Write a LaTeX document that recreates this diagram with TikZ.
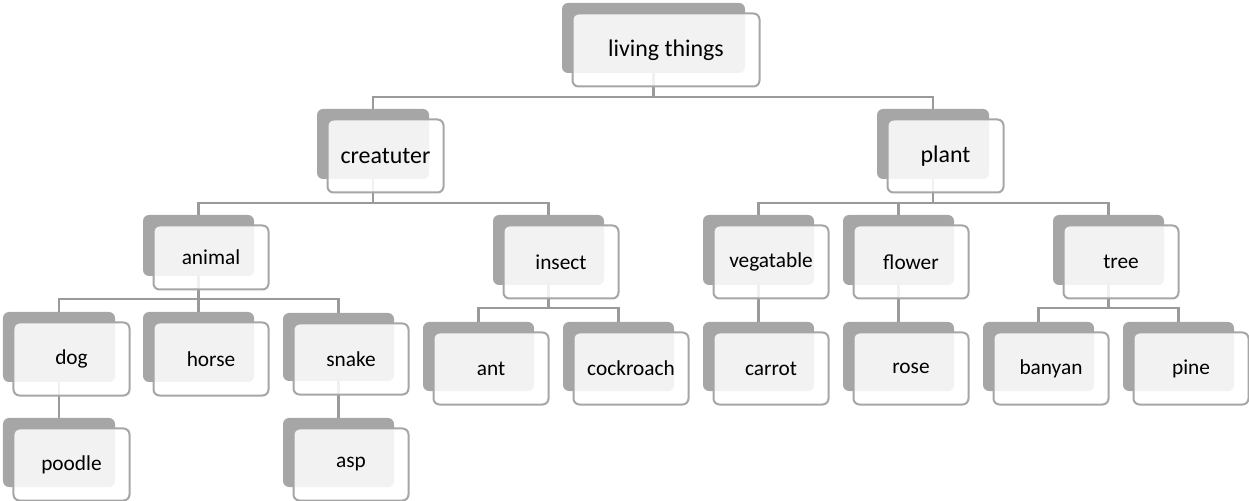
\documentclass[tikz,border=0pt]{standalone}
\usepackage{fontspec}
\setmainfont{Carlito}
\definecolor{cardgray}{HTML}{A6A6A6}
\definecolor{linkgray}{HTML}{9A9A9A}
\tikzset{
  backcard/.style={fill=cardgray, rounded corners=6bp, inner sep=0pt},
  frontcard/.style={fill=white, fill opacity=0.86, text opacity=1, draw=cardgray,
    line width=2bp, rounded corners=6bp, inner sep=0pt, text=black},
  bigtext/.style={font=\fontsize{24}{28}\selectfont},
  smalltext/.style={font=\fontsize{21.4}{25}\selectfont},
  link/.style={draw=linkgray, line width=2.2bp},
}
% \cardback{name}{center}{width}{height}
\newcommand\cardback[4]{\node[backcard, minimum width=#3bp, minimum height=#4bp] (#1-b) at (#2) {};}
% \cardfront{name}{center of back}{width}{height}{style}{text}
\newcommand\cardfront[6]{%
  \node[frontcard, #5, minimum width=#3bp+4bp, minimum height=#4bp+3bp]
    (#1) at ([shift={(12.5,12)}]#2) {#6};}
\begin{document}
\begin{tikzpicture}[x=1bp,y=-1bp]
\useasboundingbox (0,0) rectangle (1249,501);
% back cards
\cardback{lt}{653.5,38}{183}{70}
\cardback{cr}{373,144}{112}{70}
\cardback{pl}{933,144}{112}{70}
\cardback{an}{198.5,245.5}{111}{61}
\cardback{in}{548.5,250}{111}{70}
\cardback{ve}{758.5,250}{111}{70}
\cardback{fl}{898.5,250}{111}{70}
\cardback{tr}{1108.5,250}{111}{70}
\cardback{dg}{59,347}{112}{70}
\cardback{ho}{198.5,347}{111}{70}
\cardback{sn}{338.5,347}{111}{68}
\cardback{at}{478.5,356.5}{111}{69}
\cardback{co}{618.5,356.5}{111}{69}
\cardback{ca}{758.5,356.5}{111}{69}
\cardback{ro}{898.5,356.5}{111}{69}
\cardback{ba}{1038.5,356.5}{111}{69}
\cardback{pi}{1178.5,356.5}{111}{69}
\cardback{po}{59,452.5}{112}{69}
\cardback{as}{338.5,452.5}{111}{69}
% connectors
\draw[link] (lt-b.south) |- (653.5,97) -| (cr-b.north);
\draw[link] (lt-b.south) |- (653.5,97) -| (pl-b.north);
\draw[link] (cr-b.south) |- (373,203) -| (an-b.north);
\draw[link] (cr-b.south) |- (373,203) -| (in-b.north);
\draw[link] (pl-b.south) |- (933,203) -| (ve-b.north);
\draw[link] (pl-b.south) |- (933,203) -| (fl-b.north);
\draw[link] (pl-b.south) |- (933,203) -| (tr-b.north);
\draw[link] (an-b.south) |- (198.5,299) -| (dg-b.north);
\draw[link] (an-b.south) |- (198.5,299) -| (ho-b.north);
\draw[link] (an-b.south) |- (198.5,299) -| (sn-b.north);
\draw[link] (in-b.south) |- (548.5,308) -| (at-b.north);
\draw[link] (in-b.south) |- (548.5,308) -| (co-b.north);
\draw[link] (tr-b.south) |- (1108.5,308) -| (ba-b.north);
\draw[link] (tr-b.south) |- (1108.5,308) -| (pi-b.north);
\draw[link] (ve-b.south) -- (ca-b.north);
\draw[link] (fl-b.south) -- (ro-b.north);
\draw[link] (dg-b.south) -- (po-b.north);
\draw[link] (sn-b.south) -- (as-b.north);
% front cards
\cardfront{lt}{653.5,38}{183}{70}{bigtext}{living things}
\cardfront{cr}{373,144}{112}{70}{bigtext}{creatuter}
\cardfront{pl}{933,144}{112}{70}{bigtext}{plant}
\cardfront{an}{198.5,245.5}{111}{61}{smalltext}{animal}
\cardfront{in}{548.5,250}{111}{70}{smalltext}{insect}
\cardfront{ve}{758.5,250}{111}{70}{smalltext}{vegatable}
\cardfront{fl}{898.5,250}{111}{70}{smalltext}{flower}
\cardfront{tr}{1108.5,250}{111}{70}{smalltext}{tree}
\cardfront{dg}{59,347}{112}{70}{smalltext}{dog}
\cardfront{ho}{198.5,347}{111}{70}{smalltext}{horse}
\cardfront{sn}{338.5,347}{111}{68}{smalltext}{snake}
\cardfront{at}{478.5,356.5}{111}{69}{smalltext}{ant}
\cardfront{co}{618.5,356.5}{111}{69}{smalltext}{cockroach}
\cardfront{ca}{758.5,356.5}{111}{69}{smalltext}{carrot}
\cardfront{ro}{898.5,356.5}{111}{69}{smalltext}{rose}
\cardfront{ba}{1038.5,356.5}{111}{69}{smalltext}{banyan}
\cardfront{pi}{1178.5,356.5}{111}{69}{smalltext}{pine}
\cardfront{po}{59,452.5}{112}{69}{smalltext}{poodle}
\cardfront{as}{338.5,452.5}{111}{69}{smalltext}{asp}
\end{tikzpicture}
\end{document}
